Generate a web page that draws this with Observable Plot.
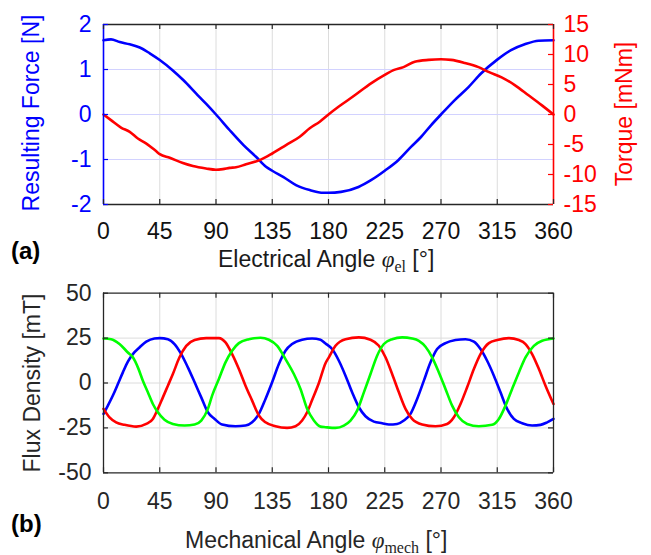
<!DOCTYPE html>
<html><head><meta charset="utf-8">
<script src="https://cdn.jsdelivr.net/npm/d3@7"></script>
<script src="https://cdn.jsdelivr.net/npm/@observablehq/plot@0.6"></script>
<style>
html,body{margin:0;padding:0;background:#fff;}
#wrap{position:relative;width:651px;height:555px;overflow:hidden;font-family:"Liberation Sans",Arial,sans-serif;}
#topChart{position:absolute;left:0;top:0;}
#botChart{position:absolute;left:0;top:275px;}
#labels{position:absolute;left:0;top:0;pointer-events:none;}
</style></head>
<body><div id="wrap">
<div id="topChart"></div>
<div id="botChart"></div>
<svg id="labels" width="651" height="555" font-family="'Liberation Sans', Arial, sans-serif" font-size="23">
  <text transform="translate(39,113) rotate(-90)" text-anchor="middle" fill="#0000ff">Resulting Force [N]</text>
  <text transform="translate(632,114) rotate(-90)" text-anchor="middle" fill="#ff0000">Torque [mNm]</text>
  <text x="11" y="258.5" font-weight="bold" font-size="24" fill="#000">(a)</text>
  <text x="218" y="267" fill="#1a1a1a">Electrical Angle <tspan font-family="'Liberation Serif', 'DejaVu Serif', serif" font-style="italic">φ</tspan><tspan font-family="'Liberation Serif', 'DejaVu Serif', serif" font-size="16" dy="5">el</tspan><tspan dy="-5"> [°]</tspan></text>
  <text transform="translate(40,383) rotate(-90)" text-anchor="middle" fill="#262626">Flux Density [mT]</text>
  <text x="11" y="532" font-weight="bold" font-size="24" fill="#000">(b)</text>
  <text x="185" y="548" fill="#262626">Mechanical Angle <tspan font-family="'Liberation Serif', 'DejaVu Serif', serif" font-style="italic">φ</tspan><tspan font-family="'Liberation Serif', 'DejaVu Serif', serif" font-size="16" dy="5">mech</tspan><tspan dy="-5"> [°]</tspan></text>
</svg>
</div>
<script>
// ---------- data ----------
const xTicks = [0, 45, 90, 135, 180, 225, 270, 315, 360];
const forceTicks = [-2, -1, 0, 1, 2];
const torqueTicks = [-15, -10, -5, 0, 5, 10, 15];
const fluxTicks = [-50, -25, 0, 25, 50];

const forceAngle = [0, 6, 13, 21, 29, 37, 45, 55, 64, 74, 82, 90, 101, 112, 122, 130, 135, 144, 154, 165, 176, 180, 190, 204, 214, 225, 236, 246, 254, 262, 270, 281, 292, 302, 315, 326, 337, 348, 360];
const force = [1.65, 1.67, 1.61, 1.56, 1.49, 1.36, 1.21, 0.99, 0.76, 0.47, 0.24, 0.0, -0.35, -0.68, -0.94, -1.16, -1.25, -1.39, -1.57, -1.68, -1.74, -1.74, -1.72, -1.61, -1.46, -1.25, -1.01, -0.72, -0.50, -0.24, 0.0, 0.32, 0.61, 0.91, 1.22, 1.43, 1.56, 1.64, 1.65];

const torqueAngle = [0, 6, 14, 21, 27.5, 34, 42, 45, 53, 63.5, 71.5, 82, 90, 95.5, 101, 106, 114, 125, 135, 146, 157, 165, 173, 180, 188, 201, 214, 225, 232, 240, 249, 260, 270, 278, 289, 300, 308, 318.5, 329, 340, 350.5, 360];
const torque = [0, -0.94, -2.17, -2.9, -4.0, -4.8, -6.1, -6.6, -7.2, -8.1, -8.6, -9.0, -9.2, -9.1, -8.9, -8.8, -8.3, -7.6, -6.5, -5.1, -3.7, -2.3, -1.2, 0, 1.28, 3.2, 5.2, 6.6, 7.4, 7.9, 8.8, 9.1, 9.2, 9.1, 8.6, 7.9, 7.1, 6.2, 4.9, 3.2, 1.56, 0];

const blueAngle = [0, 3.5, 7.5, 11.5, 15.5, 19.5, 23.5, 28.8, 34.2, 40.8, 45, 51.5, 56.8, 62.2, 67.5, 72.9, 78.2, 83.5, 88.9, 94.9, 105.6, 113.6, 118.9, 124.3, 129.6, 134.9, 140.3, 145.6, 150.9, 158.9, 166.9, 173.6, 177.6, 182.9, 188.3, 193.6, 198.9, 204.3, 209.6, 216.3, 222.9, 228.3, 234.9, 240.3, 245.6, 250.9, 256.3, 261.6, 266.9, 273.6, 281.6, 289.6, 296.3, 301.6, 306.9, 312.3, 317.6, 322.9, 328.3, 334.9, 342.9, 349.6, 354.9, 360];
const blueFlux = [-17.2, -12.6, -7.0, -0.6, 5.9, 11.9, 16.1, 19.8, 23.0, 24.8, 25.0, 24.4, 21.7, 16.1, 8.7, 0.4, -8.0, -16.3, -20.0, -23.1, -24.1, -23.7, -21.9, -17.2, -8.9, 0.4, 10.6, 18.0, 21.7, 24.1, 24.8, 24.1, 22.0, 18.9, 12.4, 4.1, -5.2, -13.5, -18.5, -21.5, -22.4, -23.1, -22.8, -20.9, -17.2, -8.9, 1.3, 11.5, 18.9, 22.2, 23.9, 24.4, 23.0, 18.9, 12.4, 4.1, -5.2, -14.4, -20.0, -22.4, -23.7, -23.3, -21.9, -20.0];

const redAngle = [0, 4.8, 10.1, 16.8, 26.2, 34.2, 39.5, 43.5, 47.5, 51.5, 55.5, 60.8, 66.2, 72.9, 82.2, 92.3, 97.6, 102.9, 108.3, 113.6, 118.9, 124.3, 129.6, 137.6, 146.9, 153.6, 158.9, 162.9, 166.9, 172.3, 177.6, 180.3, 185.6, 193.6, 204.3, 213.6, 220.3, 225.6, 230.9, 236.3, 241.6, 246.9, 254.9, 265.6, 274.9, 280.3, 285.6, 290.9, 296.3, 301.6, 308.3, 315, 324.3, 332.3, 337.6, 342.9, 348.3, 353.6, 360];
const redFlux = [-14.4, -19.1, -21.9, -23.3, -24.3, -22.8, -20.0, -14.4, -8.0, -1.5, 5.0, 14.3, 20.7, 23.9, 25.0, 25.0, 22.6, 16.1, 7.8, -1.5, -9.8, -18.1, -21.9, -24.1, -25.0, -24.1, -20.9, -16.3, -9.5, 0.0, 11.0, 14.3, 20.7, 24.4, 25.4, 24.1, 20.7, 14.3, 5.0, -5.2, -14.4, -20.0, -23.1, -24.1, -22.8, -19.1, -11.7, -2.4, 7.8, 16.1, 22.2, 23.9, 25.0, 23.9, 21.7, 16.1, 7.8, -1.5, -11.7];

const greenAngle = [0, 6.1, 12.8, 19.5, 23.5, 27.5, 31.5, 35.5, 39.5, 43.5, 48.8, 55.5, 64.9, 72.9, 78.2, 83.5, 86.9, 92.3, 97.6, 102.9, 108.3, 116.3, 125.6, 132.3, 139, 145.6, 152.3, 157.6, 162.9, 168.3, 173.6, 177.6, 185.6, 192.3, 197.6, 202.9, 208.3, 213.6, 218.9, 224.3, 230.9, 238.9, 246.9, 252.3, 257.6, 262.9, 268.3, 273.6, 278.9, 284.3, 290.9, 300.3, 310.9, 316.3, 321.6, 326.9, 332.3, 337.6, 344.3, 350.9, 360];
const greenFlux = [24.8, 24.4, 21.7, 17.0, 14.3, 8.7, 1.3, -5.2, -11.7, -16.3, -20.4, -22.8, -23.7, -23.1, -20.9, -14.4, -7.0, 2.2, 11.5, 18.0, 22.2, 24.4, 25.2, 24.1, 20.7, 13.3, 5.0, -3.3, -14.4, -20.9, -24.3, -24.6, -25.0, -23.7, -20.9, -15.4, -5.2, 5.0, 15.2, 21.7, 24.4, 25.4, 24.8, 23.5, 20.2, 14.3, 5.9, -3.3, -12.6, -19.1, -22.8, -24.1, -23.3, -20.0, -12.6, -3.3, 5.9, 14.3, 20.7, 23.5, 24.8];

// ---------- helpers ----------
const BLUE = "#0000ff", RED = "#ff0000", GREEN = "#00ff00", AX = "#262626";
const angleDomain = [0, 360];
const forceDomain = [-2, 2];
const torqueDomain = [-15, 15];
const fluxDomain = [-50, 50];
const k = (forceDomain[1] - forceDomain[0]) / (torqueDomain[1] - torqueDomain[0]);
const toF = t => forceDomain[0] + (t - torqueDomain[0]) * k;
const fromF = f => torqueDomain[0] + (f - forceDomain[0]) / k;
const rows = (xs, ys) => xs.map((a, i) => ({a, v: ys[i]}));
const fmt = d => String(d);
const style = {fontFamily: "'Liberation Sans', Arial, sans-serif", fontSize: "23px", background: "transparent", overflow: "visible"};

// ---------- top chart ----------
const tLenX = 4;      // tick length in degrees
const tLenF = 0.11;   // tick length in force units
const topPlot = Plot.plot({
  width: 651, height: 275,
  marginLeft: 103, marginRight: 98, marginTop: 24, marginBottom: 71,
  style,
  x: {domain: angleDomain},
  y: {domain: forceDomain},
  marks: [
    Plot.ruleX(xTicks.slice(1, -1), {stroke: "#dcdcdc", strokeWidth: 1}),
    Plot.ruleY(forceTicks.slice(1, -1), {stroke: "#d2d2ff", strokeWidth: 1}),
    Plot.line(rows(forceAngle, force), {x: "a", y: "v", stroke: BLUE, strokeWidth: 2.6, curve: "monotone-x"}),
    Plot.line(rows(torqueAngle, torque.map(toF)), {x: "a", y: "v", stroke: RED, strokeWidth: 2.6, curve: "monotone-x"}),
    Plot.ruleY([forceDomain[0], forceDomain[1]], {stroke: AX, strokeWidth: 1.3}),
    Plot.ruleX([angleDomain[0]], {stroke: BLUE, strokeWidth: 1.6}),
    Plot.ruleX([angleDomain[1]], {stroke: RED, strokeWidth: 1.6}),
    Plot.ruleX(xTicks, {y1: forceDomain[1], y2: forceDomain[1] - tLenF, stroke: AX, strokeWidth: 1.2}),
    Plot.ruleX(xTicks, {y1: forceDomain[0], y2: forceDomain[0] + tLenF, stroke: AX, strokeWidth: 1.2}),
    Plot.ruleY(forceTicks, {x1: angleDomain[0], x2: angleDomain[0] + tLenX, stroke: BLUE, strokeWidth: 1.2}),
    Plot.ruleY(torqueTicks.map(toF), {x1: angleDomain[1], x2: angleDomain[1] - tLenX, stroke: RED, strokeWidth: 1.2}),
    Plot.axisX({ticks: xTicks, tickSize: 0, tickPadding: 18.5, label: null, tickFormat: fmt, fill: "#111"}),
    Plot.axisY({anchor: "left", ticks: forceTicks, tickSize: 0, tickPadding: 12, label: null, tickFormat: fmt, fill: BLUE}),
    Plot.axisY({anchor: "right", ticks: torqueTicks.map(toF), tickSize: 0, tickPadding: 10, label: null,
      tickFormat: d => String(Math.round(fromF(d))), fill: RED})
  ]
});
document.getElementById("topChart").appendChild(topPlot);

// ---------- bottom chart ----------
const tLenB = 2.8;  // tick length in mT
const botPlot = Plot.plot({
  width: 651, height: 280,
  marginLeft: 103, marginRight: 98, marginTop: 17.7, marginBottom: 82.7,
  style,
  x: {domain: angleDomain},
  y: {domain: fluxDomain},
  marks: [
    Plot.ruleX(xTicks.slice(1, -1), {stroke: "#dcdcdc", strokeWidth: 1}),
    Plot.ruleY(fluxTicks.slice(1, -1), {stroke: "#dcdcdc", strokeWidth: 1}),
    Plot.line(rows(blueAngle, blueFlux), {x: "a", y: "v", stroke: BLUE, strokeWidth: 2.6, curve: "monotone-x"}),
    Plot.line(rows(redAngle, redFlux), {x: "a", y: "v", stroke: RED, strokeWidth: 2.6, curve: "monotone-x"}),
    Plot.line(rows(greenAngle, greenFlux), {x: "a", y: "v", stroke: GREEN, strokeWidth: 2.6, curve: "monotone-x"}),
    Plot.ruleY([fluxDomain[0], fluxDomain[1]], {stroke: AX, strokeWidth: 1.3}),
    Plot.ruleX([angleDomain[0], angleDomain[1]], {stroke: AX, strokeWidth: 1.3}),
    Plot.ruleX(xTicks, {y1: fluxDomain[1], y2: fluxDomain[1] - tLenB, stroke: AX, strokeWidth: 1.2}),
    Plot.ruleX(xTicks, {y1: fluxDomain[0], y2: fluxDomain[0] + tLenB, stroke: AX, strokeWidth: 1.2}),
    Plot.ruleY(fluxTicks, {x1: angleDomain[0], x2: angleDomain[0] + tLenX, stroke: AX, strokeWidth: 1.2}),
    Plot.ruleY(fluxTicks, {x1: angleDomain[1], x2: angleDomain[1] - tLenX, stroke: AX, strokeWidth: 1.2}),
    Plot.axisX({ticks: xTicks, tickSize: 0, tickPadding: 19.4, label: null, tickFormat: fmt, fill: AX}),
    Plot.axisY({anchor: "left", ticks: fluxTicks, tickSize: 0, tickPadding: 12, label: null, tickFormat: fmt, fill: AX})
  ]
});
document.getElementById("botChart").appendChild(botPlot);
</script>
</body></html>
